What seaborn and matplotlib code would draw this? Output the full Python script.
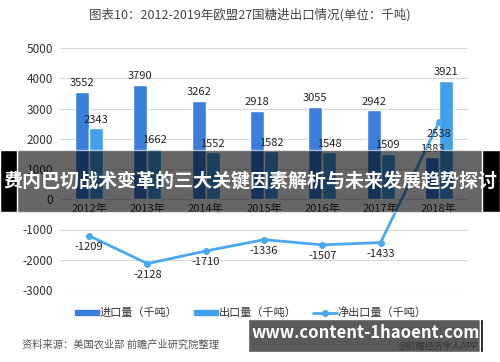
import numpy as np
import pandas as pd
import matplotlib
matplotlib.use("Agg")
import matplotlib.pyplot as plt
from matplotlib.patches import Rectangle
from matplotlib.lines import Line2D
import seaborn as sns

years = ["2012年", "2013年", "2014年", "2015年", "2016年", "2017年", "2018年"]
imports = [3552, 3790, 3262, 2918, 3055, 2942, 1383]
exports = [2343, 1662, 1552, 1582, 1548, 1509, 3921]
net = [-1209, -2128, -1710, -1336, -1507, -1433, 2538]
series_names = ["进口量（千吨）", "出口量（千吨）", "净出口量（千吨）"]
yticks = [-3000, -2000, -1000, 0, 1000, 2000, 3000, 4000, 5000]

sns.set_style("white")
plt.rcParams['font.family'] = ['Noto Sans CJK SC', 'DejaVu Sans']

c_imp = "#3a7fdc"
c_exp = "#42a0ea"
c_net = "#4aa8ee"

df = pd.DataFrame({
    "year": years * 2,
    "value": imports + exports,
    "series": [series_names[0]] * len(years) + [series_names[1]] * len(years),
})

fig = plt.figure(figsize=(5, 3.62), dpi=100)
W, H = 500, 362
ax = fig.add_axes([60 / W, 1 - 290 / H, 408 / W, 242 / H])

sns.barplot(data=df, x="year", y="value", hue="series", palette=[c_imp, c_exp],
            width=0.48, dodge=True, ax=ax, legend=False, saturation=1, zorder=2)
xpos = np.arange(len(years))
sns.lineplot(x=xpos, y=net, ax=ax, color=c_net, marker="o", markersize=5,
             markeredgewidth=0, linewidth=2, zorder=3)

ax.set_ylim(-3000, 5000)
ax.set_xlim(-0.5, len(years) - 0.5)
ax.set_yticks(yticks)
ax.set_yticklabels([str(v) for v in yticks], fontsize=8.5, color="#333333")
ax.yaxis.grid(True, color="#d9d9d9", linewidth=0.8, zorder=0)
ax.set_axisbelow(True)
for s in ax.spines.values():
    s.set_visible(False)
ax.spines['bottom'].set_position(('data', 0))
ax.set_xticks(xpos)
ax.set_xticklabels(years, fontsize=8, color="#333333")
ax.tick_params(axis='both', length=0, pad=3)
ax.tick_params(axis='y', pad=5)
ax.set_xlabel("")
ax.set_ylabel("")

bw = 0.24
for i in range(len(years)):
    ax.text(i - bw / 2, imports[i] + 120, str(imports[i]), ha="center", va="bottom",
            fontsize=8, color="#222222", zorder=5)
    ax.text(i + bw / 2, exports[i] + 120, str(exports[i]), ha="center", va="bottom",
            fontsize=8, color="#222222", zorder=5)
    ax.text(i, net[i] - 200, str(net[i]), ha="center", va="top",
            fontsize=8, color="#222222", zorder=5)

# legend
handles = [
    Rectangle((0, 0), 1, 1, color=c_imp),
    Rectangle((0, 0), 1, 1, color=c_exp),
    Line2D([0], [0], color=c_net, marker="o", markersize=4, linewidth=2),
]
leg = fig.legend(handles, series_names, loc="center", bbox_to_anchor=(251 / W, 1 - 313 / H),
                 ncol=3, frameon=False, fontsize=8, handlelength=2.1, handleheight=0.4,
                 columnspacing=1.5, handletextpad=0.1)
for t in leg.get_texts():
    t.set_color("#333333")

fig.text(250 / W, 1 - 15 / H, "图表10：2012-2019年欧盟27国糖进出口情况(单位：千吨)",
         ha="center", va="center", fontsize=9, color="#444444")
fig.text(22 / W, 1 - 345 / H, "资料来源：美国农业部 前瞻产业研究院整理",
         ha="left", va="center", fontsize=7.4, color="#555555", style="italic")

# overlay banner
fig.patches.append(Rectangle((0, 1 - 212 / H), 1, 62 / H, transform=fig.transFigure,
                             facecolor="#000000", alpha=0.6, zorder=10, figure=fig))
fig.patches.append(Rectangle((0, 1 - 212 / H), 17 / W, 62 / H, transform=fig.transFigure,
                             facecolor="#000000", alpha=1, zorder=11, figure=fig))
fig.patches.append(Rectangle((482 / W, 1 - 212 / H), 18 / W, 62 / H, transform=fig.transFigure,
                             facecolor="#000000", alpha=1, zorder=11, figure=fig))
fig.text(250 / W, 1 - 181 / H, "费内巴切战术变革的三大关键因素解析与未来发展趋势探讨",
         ha="center", va="center", fontsize=13.7, color="white", fontweight="bold", zorder=12)

# bottom banner
fig.patches.append(Rectangle((248 / W, 1 - 352 / H), 232 / W, 33 / H, transform=fig.transFigure,
                             facecolor="#5a5a5a", alpha=1, zorder=10, figure=fig))
fig.patches.append(Rectangle((480 / W, 1 - 352 / H), 3 / W, 33 / H, transform=fig.transFigure,
                             facecolor="#000000", alpha=1, zorder=11, figure=fig))
fig.text(366 / W, 1 - 333 / H, "www.content-1haoent.com", ha="center", va="center",
         fontsize=12, color="white", fontweight="bold", zorder=12)
fig.text(478 / W, 1 - 346 / H, "@前瞻经济学人APP", ha="right", va="center",
         fontsize=6.5, color="#333333", zorder=11.5)

fig.savefig("out.png", dpi=100)
